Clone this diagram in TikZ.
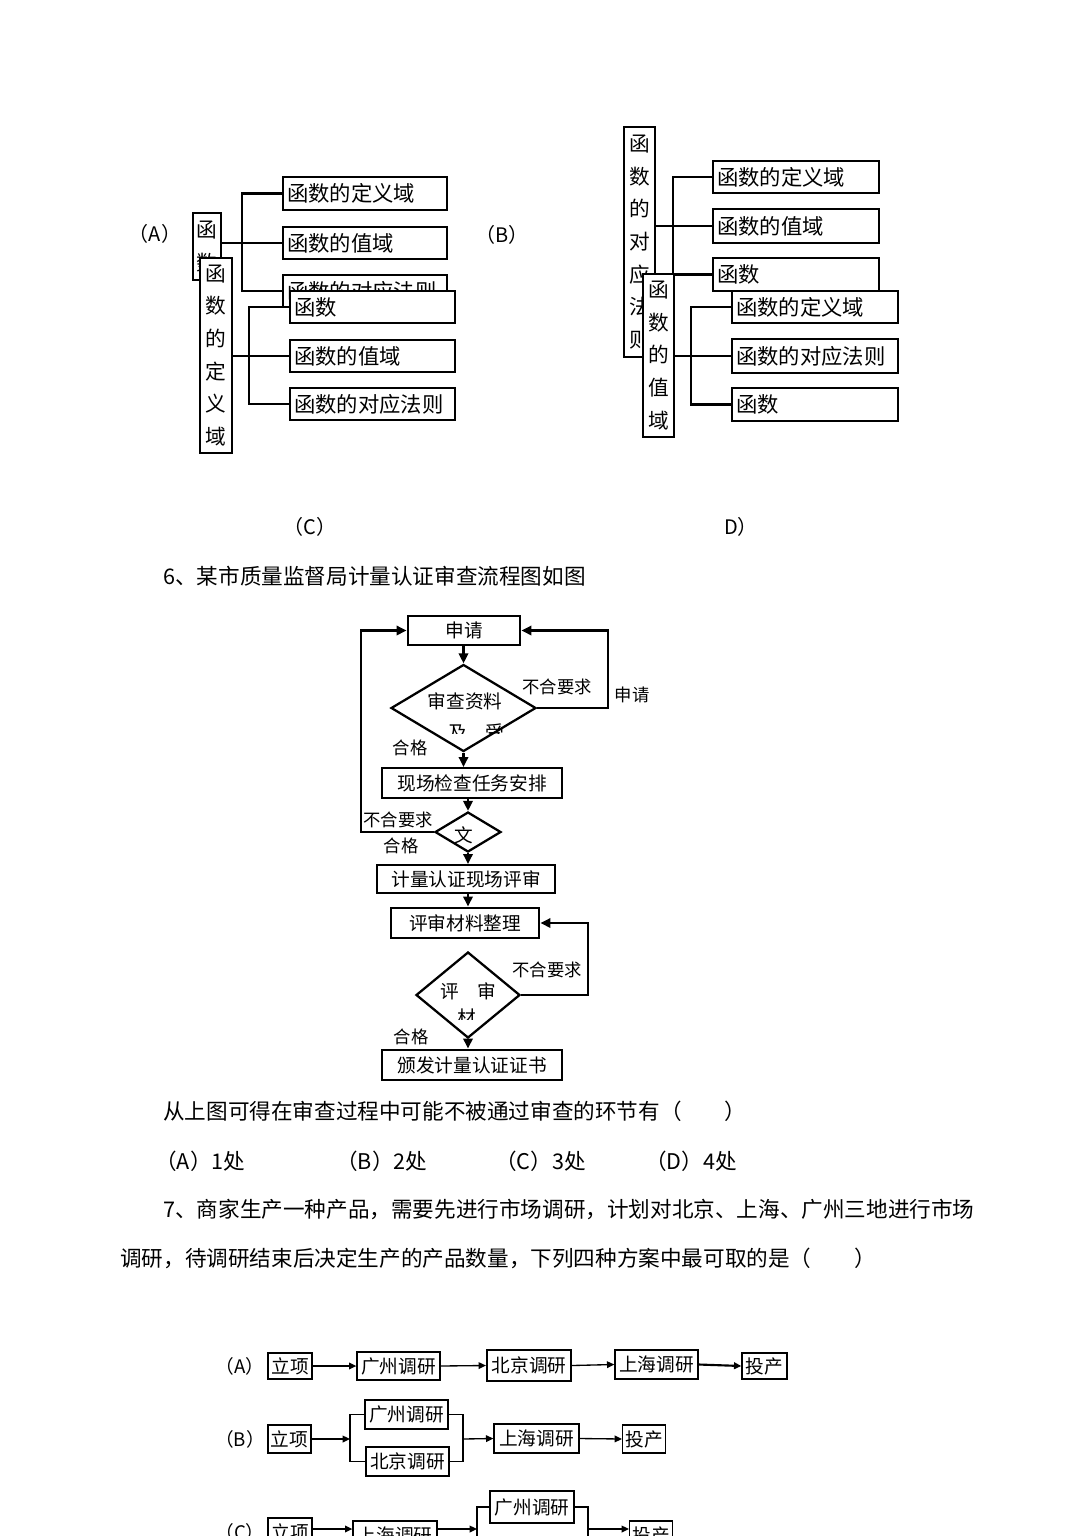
\documentclass[tikz,border=0pt]{standalone}
\usepackage{fontspec}
\setmainfont{Noto Sans CJK SC}
\usetikzlibrary{shapes.geometric,arrows.meta}
\newcommand\mybox[7][]{\node[bx,#1,minimum width={(#4-#2)*0.75pt},minimum height={(#5-#3)*0.75pt}] (#6) at ({(#2+#4)/2},{(#3+#5)/2}) {#7};}
\newcommand\mylbox[7][]{\node[bx,#1,minimum width={(#4-#2)*0.75pt},minimum height={(#5-#3)*0.75pt}] (#6) at ({(#2+#4)/2},{(#3+#5)/2}) {\makebox[\dimexpr(#4pt-#2pt)*3/4-6pt\relax][l]{#7}};}
\tikzset{
 bx/.style={draw, fill=white, inner xsep=3pt, inner ysep=0pt, line width=1.5pt},
 vt/.style={align=center, font=\fontsize{15.5}{24.5}\selectfont},
 ht/.style={font=\fontsize{16}{19}\selectfont},
 conn/.style={line width=2pt},
 fc/.style={font=\fontsize{14}{16}\selectfont},
 lab/.style={font=\fontsize{13}{15}\selectfont, inner sep=0pt},
 tlab/.style={font=\fontsize{15}{17}\selectfont, inner sep=0pt},
 arr/.style={line width=1.7pt, -{Triangle[length=7.5pt,width=7pt]}},
 dia/.style={diamond, draw, line width=1.7pt, inner sep=0pt, fill=white},
 body/.style={font=\fontsize{16.2}{20}\selectfont, anchor=west, inner sep=0pt},
 sbx/.style={line width=1pt, font=\fontsize{14}{16}\selectfont, inner xsep=2pt},
 sline/.style={line width=1pt},
 sarr/.style={line width=1pt, -{Triangle[length=5.5pt,width=5pt]}},
 slab/.style={font=\fontsize{14}{16}\selectfont, inner sep=0pt},
}
\begin{document}
\begin{tikzpicture}[x=0.75pt,y=-0.75pt]
\useasboundingbox (0,0) rectangle (1087,1536);
\clip (0,0) rectangle (1087,1536);
\fill[white] (0,0) rectangle (1087,1536);

% ---------- (A) back group ----------
\node[tlab] (labA) at (155,234) {（A）};
\mybox[vt]{193}{213}{221}{280}{vA}{函\\数};
\mylbox[ht]{283}{177}{447}{210}{hA1}{函数的定义域};
\mylbox[ht]{283}{227}{447}{259}{hA2}{函数的值域};
\mylbox[ht]{283}{275}{447}{307}{hA3}{函数的对应法则};
\coordinate (jA) at (242,243);
\draw[conn] (hA1.west) -| (jA) |- (hA3.west);
\draw[conn] (vA.east |- hA2.west) -- (hA2.west);

% ---------- (C) front group ----------
\mybox[vt]{200}{258}{232}{453}{vC}{函\\数\\的\\定\\义\\域};
\mylbox[ht]{290}{291}{455}{323}{hC1}{函数};
\mylbox[ht]{290}{340}{455}{372}{hC2}{函数的值域};
\mylbox[ht]{290}{388}{455}{420}{hC3}{函数的对应法则};
\coordinate (jC) at (249,356);
\draw[conn] (hC1.west) -| (jC) |- (hC3.west);
\draw[conn] (vC.east |- hC2.west) -- (hC2.west);

% ---------- (B) back group ----------
\node[tlab] (labB) at (502,235) {（B）};
\mybox[vt]{624}{127}{655}{357}{vB}{函\\数\\的\\对\\应\\法\\则};
\mylbox[ht]{713}{161}{879}{193}{hB1}{函数的定义域};
\mylbox[ht]{713}{209}{879}{243}{hB2}{函数的值域};
\mylbox[ht]{713}{258}{879}{291}{hB3}{函数};
\coordinate (jB) at (673,227);
\draw[conn] (hB1.west) -| (jB) |- (hB3.west);
\draw[conn] (vB.east |- hB2.west) -- (hB2.west);

% ---------- (D) front group ----------
\mybox[vt]{643}{274}{674}{437}{vD}{函\\数\\的\\值\\域};
\mylbox[ht]{732}{291}{898}{323}{hD1}{函数的定义域};
\mylbox[ht]{732}{339}{898}{373}{hD2}{函数的对应法则};
\mylbox[ht]{732}{388}{898}{421}{hD3}{函数};
\coordinate (jD) at (691,356);
\draw[conn] (hD1.west) -| (jD) |- (hD3.west);
\draw[conn] (vD.east |- hD2.west) -- (hD2.west);

\node[tlab] (labC) at (310,527) {（C）};
\node[tlab] (labD) at (741,527) {D）};

% ---------- text ----------
\node[body] (t6) at (163,576) {6、某市质量监督局计量认证审查流程图如图};
\node[body] (q6) at (163,1111) {从上图可得在审查过程中可能不被通过审查的环节有（　　）};
\node[body] (oA) at (155,1161) {（A）1处};
\node[body] (oB) at (336,1161) {（B）2处};
\node[body] (oC) at (495,1161) {（C）3处};
\node[body] (oD) at (645,1161) {（D）4处};
\node[body] (t7a) at (163,1209) {7、商家生产一种产品，需要先进行市场调研，计划对北京、上海、广州三地进行市场};
\node[body] (t7b) at (120,1258) {调研，待调研结束后决定生产的产品数量，下列四种方案中最可取的是（　　）};

% ---------- flowchart ----------
\mybox[fc,line width=2.2pt]{408}{616}{520}{645}{s1}{申请};
\node[dia, minimum width=108.75pt, minimum height=65.25pt] (d1) at (463.5,708) {};
\node[fc] (d1t) at (465,701) {审查资料};
\begin{scope}\clip (430,718) rectangle (520,733); \node[fc] (d1u) at (476,732) {及　受};\end{scope}
\mybox[fc]{382}{768}{562}{798}{s2}{现场检查任务安排};
\node[dia, minimum width=49.5pt, minimum height=30pt] (d2) at (468,832) {};
\begin{scope}\clip (450,818) rectangle (480,843); \node[fc] (d2t) at (464,835) {文};\end{scope}
\mybox[fc]{377}{865}{555}{893}{s3}{计量认证现场评审};
\mybox[fc,line width=2.2pt]{391}{908}{539}{938}{s4}{评审材料整理};
\node[dia, minimum width=78pt, minimum height=64.5pt] (d3) at (468,995) {};
\node[fc] (d3t) at (468,991) {评　审};
\begin{scope}\clip (450,1000) rectangle (490,1019); \node[fc] (d3u) at (467,1017) {材};\end{scope}
\mybox[fc,line width=2.2pt]{382}{1050}{562}{1080}{s5}{颁发计量认证证书};

\draw[arr] (s1.south -| d1.north) -- (d1.north);
\draw[arr] (d1.south) -- (d1.south |- s2.north);
\draw[arr] (d2.north |- s2.south) -- (d2.north);
\draw[arr] (d2.south) -- (d2.south |- s3.north);
\draw[arr] (d2.south |- s3.south) -- (d2.south |- s4.north);
\draw[arr] (d3.south) -- (d3.south |- s5.north);
\draw[arr] (d1.east) -- ++(71,0) |- (s1.east);
\draw[arr] (d2.west) -- ++(-73,0) |- (s1.west);
\draw[arr] (d3.east) -- ++(67,0) |- (s4.east);

\node[lab] (l1) at (557,687) {不合要求};
\node[lab] (l2) at (632,695) {申请};
\node[lab] (l3) at (410,748) {合格};
\node[lab] (l4) at (398,820) {不合要求};
\node[lab] (l5) at (401,846) {合格};
\node[lab] (l6) at (547,970) {不合要求};
\node[lab] (l7) at (411,1037) {合格};

% ---------- bottom: row A ----------
\node[slab] (aL) at (240,1366) {（A）};
\mybox[sbx]{268}{1353}{312}{1379}{a1}{立项};
\mybox[sbx]{357}{1352}{440}{1380}{a2}{广州调研};
\mybox[sbx,line width=1.6pt]{487}{1350}{571}{1381}{a3}{北京调研};
\mybox[sbx]{615}{1350}{698}{1379}{a4}{上海调研};
\mybox[sbx]{742}{1353}{787}{1379}{a5}{投产};
\draw[sarr] (a1.east) -- (a2.west);
\draw[sarr] (a2.east) -- (a3.west);
\draw[sarr] (a3.east) -- (a4.west);
\draw[sarr,line width=1.6pt] (a4.east) -- (a5.west);

% ---------- row B ----------
\node[slab] (bL) at (240,1439) {（B）};
\mybox[sbx]{268}{1425}{311}{1453}{b1}{立项};
\mybox[sbx]{365}{1400}{448}{1429}{b2}{广州调研};
\mybox[sbx]{366}{1447}{449}{1476}{b3}{北京调研};
\mybox[sbx]{494}{1424}{579}{1453}{b4}{上海调研};
\mybox[sbx]{623}{1425}{665}{1453}{b5}{投产};
\coordinate (bj1) at (350,1439);
\coordinate (bj2) at (463,1439);
\draw[sline] (b2.west) -| (bj1) |- (b3.west);
\draw[sline] (b2.east) -| (bj2) |- (b3.east);
\draw[sarr] (b1.east) -- (bj1);
\draw[sarr] (bj2) -- (b4.west);
\draw[sarr] (b4.east) -- (b5.west);

% ---------- row C ----------
\node[slab] (cL) at (240,1532) {（C）};
\mybox[sbx]{268}{1518}{312}{1546}{c1}{立项};
\mybox[sbx]{353}{1521}{437}{1549}{c2}{上海调研};
\mybox[sbx]{490}{1491}{574}{1523}{c3}{广州调研};
\mybox[sbx]{630}{1521}{672}{1549}{c5}{投产};
\coordinate (cj1) at (477,1529);
\coordinate (cj2) at (588,1529);
\draw[sarr] (c1.east |- cj1) -- (c2.west |- cj1);
\draw[sarr] (c2.east |- cj1) -- (cj1);
\draw[sline] (c3.west) -| (cj1) -- ++(0,20);
\draw[sline] (c3.east) -| (cj2) -- ++(0,20);
\draw[sarr] (cj2) -- (c5.west |- cj2);
\end{tikzpicture}
\end{document}
